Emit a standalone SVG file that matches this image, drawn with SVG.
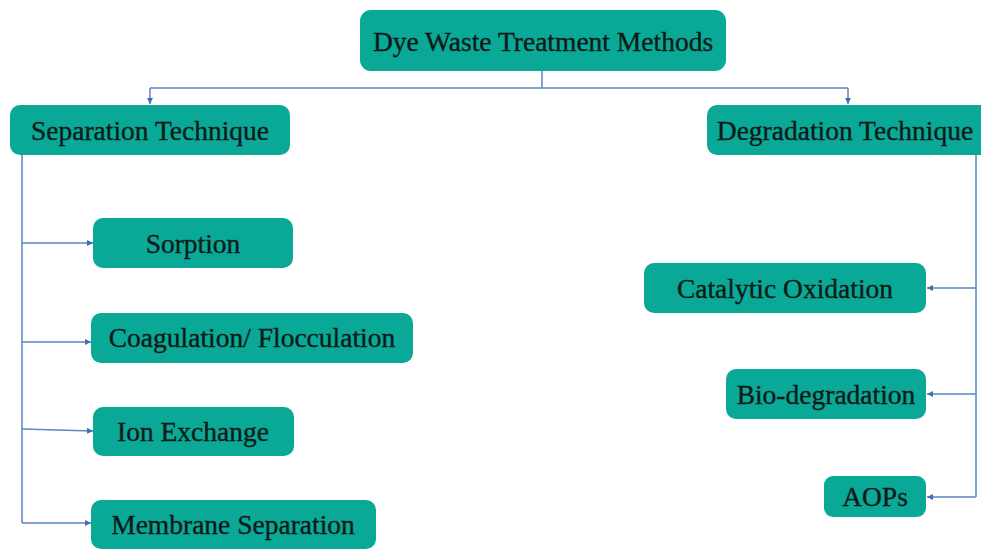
<svg xmlns="http://www.w3.org/2000/svg" width="981" height="552" viewBox="0 0 981 552">
<style>
.box{fill:#0aa896;}
.t{font-family:"Liberation Serif","Times New Roman",serif;font-size:27.5px;fill:#0e1a18;stroke:#0e1a18;stroke-width:0.35;text-anchor:middle;dominant-baseline:central;}
.c{fill:none;stroke:#5b86c0;stroke-width:1.5;}
</style>
<defs>
<marker id="ah" viewBox="0 0 6 6" refX="6" refY="3" markerWidth="6" markerHeight="6" orient="auto" markerUnits="userSpaceOnUse">
<path d="M0,0 L6,3 L0,6 z" fill="#3f6fae"/>
</marker>
</defs>
<rect width="981" height="552" fill="#fff"/>
<g id="connectors">
<path class="c" d="M542,71 V88"/>
<path class="c" d="M150,88 H848"/>
<path class="c" d="M150,88 V104" marker-end="url(#ah)"/>
<path class="c" d="M848,88 V104" marker-end="url(#ah)"/>
<path class="c" d="M22,155 V523"/>
<path class="c" d="M22,243 H93" marker-end="url(#ah)"/>
<path class="c" d="M22,342 H91" marker-end="url(#ah)"/>
<path class="c" d="M22,429 L93,431" marker-end="url(#ah)"/>
<path class="c" d="M22,523 H91" marker-end="url(#ah)"/>
<path class="c" d="M976,155 V497"/>
<path class="c" d="M976,288 H927" marker-end="url(#ah)"/>
<path class="c" d="M976,394 H927" marker-end="url(#ah)"/>
<path class="c" d="M976,497 H927" marker-end="url(#ah)"/>
</g>
<g id="root"><rect class="box" x="360" y="10" width="366" height="61" rx="11"/><text class="t" x="543" y="41">Dye Waste Treatment Methods</text></g>
<g id="separation"><rect class="box" x="10" y="105" width="280" height="50" rx="10"/><text class="t" x="150" y="130">Separation Technique</text></g>
<g id="degradation"><rect class="box" x="707" y="105" width="284" height="50" rx="10"/><text class="t" x="845" y="130">Degradation Technique</text></g>
<g id="sorption"><rect class="box" x="93" y="218" width="200" height="50" rx="10"/><text class="t" x="193" y="243">Sorption</text></g>
<g id="coagulation"><rect class="box" x="91" y="313" width="322" height="50" rx="10"/><text class="t" x="252" y="337">Coagulation/ Flocculation</text></g>
<g id="ion"><rect class="box" x="93" y="407" width="201" height="49" rx="10"/><text class="t" x="193" y="431">Ion Exchange</text></g>
<g id="membrane"><rect class="box" x="91" y="500" width="285" height="49" rx="10"/><text class="t" x="233" y="524">Membrane Separation</text></g>
<g id="catalytic"><rect class="box" x="644" y="263" width="282" height="50" rx="10"/><text class="t" x="785" y="288">Catalytic Oxidation</text></g>
<g id="bio"><rect class="box" x="726" y="369" width="200" height="50" rx="10"/><text class="t" x="826" y="394">Bio-degradation</text></g>
<g id="aops"><rect class="box" x="824" y="476" width="102" height="41" rx="9"/><text class="t" x="875" y="496">AOPs</text></g>
</svg>
